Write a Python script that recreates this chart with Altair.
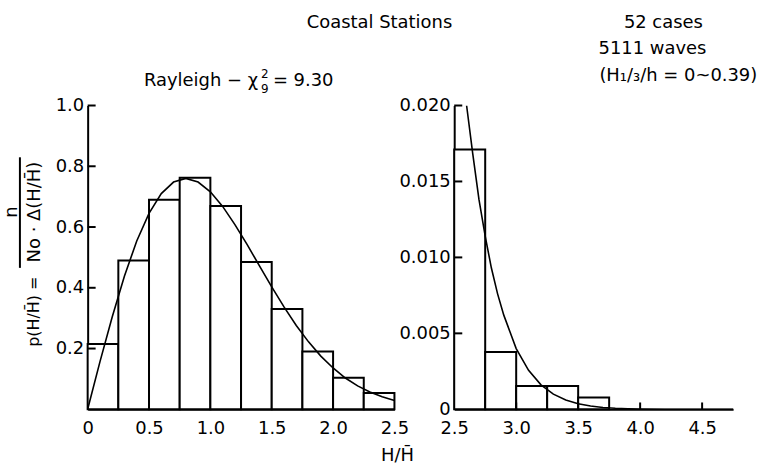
import altair as alt
import pandas as pd

# ---------------- data ----------------
left_bin_start = [0.0, 0.25, 0.5, 0.75, 1.0, 1.25, 1.5, 1.75, 2.0, 2.25]
left_bin_end = [0.25, 0.5, 0.75, 1.0, 1.25, 1.5, 1.75, 2.0, 2.25, 2.5]
left_density = [0.215, 0.49, 0.69, 0.762, 0.669, 0.485, 0.33, 0.19, 0.104, 0.054]

right_bin_start = [2.5, 2.75, 3.0, 3.25, 3.5]
right_bin_end = [2.75, 3.0, 3.25, 3.5, 3.75]
right_density = [0.0171, 0.00377, 0.00153, 0.00153, 0.00078]

left_curve_x = [0.0, 0.1, 0.2, 0.3, 0.4, 0.5, 0.6, 0.7, 0.8, 0.9, 1.0, 1.1, 1.2,
                1.3, 1.4, 1.5, 1.6, 1.7, 1.8, 1.9, 2.0, 2.1, 2.2, 2.3, 2.4, 2.5]
left_curve_y = [0.0, 0.156, 0.304, 0.439, 0.554, 0.645, 0.710, 0.748, 0.760, 0.748,
                0.716, 0.668, 0.608, 0.542, 0.472, 0.403, 0.337, 0.276, 0.222, 0.175,
                0.136, 0.103, 0.077, 0.057, 0.041, 0.029]

right_curve_x = [2.6, 2.65, 2.7, 2.75, 2.8, 2.85, 2.9, 3.0, 3.1, 3.2, 3.3, 3.4, 3.5,
                 3.6, 3.7, 3.8, 3.9, 4.0, 4.2, 4.4, 4.75]
right_curve_y = [0.0200, 0.0168, 0.0138, 0.0114, 0.0093, 0.0076, 0.0062, 0.0040,
                 0.00257, 0.00161, 0.00100, 0.00061, 0.00037, 0.00022, 0.00012,
                 0.00007, 0.00004, 0.00002, 0.000006, 0.000001, 0.0]

left_x_ticks = [0, 0.5, 1.0, 1.5, 2.0, 2.5]
left_y_ticks = [0.2, 0.4, 0.6, 0.8, 1.0]
right_x_ticks = [2.5, 3.0, 3.5, 4.0, 4.5]
right_y_ticks = [0, 0.005, 0.010, 0.015, 0.020]

FONT = "DejaVu Sans"
INK = "black"
FS = 18

left_bars = pd.DataFrame({"x0": left_bin_start, "x1": left_bin_end, "p": left_density})
right_bars = pd.DataFrame({"x0": right_bin_start, "x1": right_bin_end, "p": right_density})
left_curve = pd.DataFrame({"x": left_curve_x, "p": left_curve_y})
right_curve = pd.DataFrame({"x": right_curve_x, "p": right_curve_y})

lx = alt.Scale(domain=[0, 2.5], nice=False)
ly = alt.Scale(domain=[0, 1.0], nice=False)
rx = alt.Scale(domain=[2.5, 4.75], nice=False, zero=False)
ry = alt.Scale(domain=[0, 0.02], nice=False)

axis_common = dict(grid=False, ticks=False, domainColor=INK, domainWidth=2,
                   labelFont=FONT, labelFontSize=FS, labelColor=INK, title=None,
                   labelFlush=False, labelOverlap=False)

lx_axis = alt.Axis(values=left_x_ticks, labelPadding=10,
                   labelExpr="datum.value == 0 ? '0' : format(datum.value, '.1f')", **axis_common)
ly_axis = alt.Axis(values=left_y_ticks, labelPadding=4, format=".1f", **axis_common)
rx_axis = alt.Axis(values=right_x_ticks, labelPadding=10, format=".1f", **axis_common)
ry_axis = alt.Axis(values=right_y_ticks, labelPadding=4,
                   labelExpr="datum.value == 0 ? '0' : format(datum.value, '.3f')", **axis_common)


def text_layer(txt, x, y, size=FS, align="center", angle=0):
    kw = dict(font=FONT, fontSize=size, color=INK, align=align, baseline="middle")
    if angle:
        kw["angle"] = angle
    return alt.Chart(alt.Data(values=[{}])).mark_text(**kw).encode(
        x=alt.value(x), y=alt.value(y), text=alt.value(txt))


# ---------------- left panel ----------------
l_bars = alt.Chart(left_bars).mark_rect(fill="white", stroke=INK, strokeWidth=2).encode(
    x=alt.X("x0:Q", scale=lx, axis=lx_axis),
    x2="x1:Q",
    y=alt.Y("p:Q", scale=ly, axis=ly_axis),
    y2=alt.datum(0),
)
l_line = alt.Chart(left_curve).mark_line(color=INK, strokeWidth=1.6).encode(
    x=alt.X("x:Q", scale=lx, axis=lx_axis), y=alt.Y("p:Q", scale=ly, axis=ly_axis))
l_ticks = alt.Chart(pd.DataFrame({"t": left_y_ticks})).mark_rule(color=INK, strokeWidth=2).encode(
    y=alt.Y("t:Q", scale=ly, axis=ly_axis), x=alt.datum(0, scale=lx), x2=alt.datum(0.065))

frac_bar = alt.Chart(alt.Data(values=[{}])).mark_rule(color=INK, strokeWidth=2).encode(
    x=alt.value(-68), y=alt.value(52), y2=alt.value(163))

left = alt.layer(
    l_bars, l_line, l_ticks, frac_bar,
    text_layer("n", -76, 107, angle=270),
    text_layer("No · Δ(H/H\u0304)", -53, 107, angle=270),
    text_layer("p(H/H\u0304) =", -54, 207, size=16, angle=270),
    text_layer("Coastal  Stations", 293, -83),
    text_layer("52 cases", 578, -83),
    text_layer("5111  waves", 567, -57),
    text_layer("(H\u2081/\u2083/h = 0~0.39)", 593, -30),
    text_layer("Rayleigh − χ", 171, -25, align="right"),
    text_layer("2", 174, -32, size=12, align="left"),
    text_layer("9", 174, -17, size=12, align="left"),
    text_layer("= 9.30", 186, -25, align="left"),
    text_layer("H/H\u0304", 311, 352),
).properties(width=308, height=305)

# ---------------- right panel ----------------
r_bars = alt.Chart(right_bars).mark_rect(fill="white", stroke=INK, strokeWidth=2).encode(
    x=alt.X("x0:Q", scale=rx, axis=rx_axis),
    x2="x1:Q",
    y=alt.Y("p:Q", scale=ry, axis=ry_axis),
    y2=alt.datum(0),
)
r_line = alt.Chart(right_curve).mark_line(color=INK, strokeWidth=1.6, clip=True).encode(
    x=alt.X("x:Q", scale=rx, axis=rx_axis), y=alt.Y("p:Q", scale=ry, axis=ry_axis))
r_yticks = alt.Chart(pd.DataFrame({"t": right_y_ticks[1:]})).mark_rule(color=INK, strokeWidth=2).encode(
    y=alt.Y("t:Q", scale=ry, axis=ry_axis), x=alt.datum(2.5, scale=rx), x2=alt.datum(2.565))
r_xticks = alt.Chart(pd.DataFrame({"t": right_x_ticks[1:]})).mark_rule(color=INK, strokeWidth=2).encode(
    x=alt.X("t:Q", scale=rx, axis=rx_axis), y=alt.datum(0, scale=ry), y2=alt.datum(0.00045))

right = alt.layer(r_bars, r_line, r_yticks, r_xticks).properties(width=280, height=305)

chart = alt.hconcat(left, right, spacing=60, bounds="flush").properties(
    padding={"left": 3, "top": 13, "right": 2, "bottom": 2},
    background="white",
).configure_view(stroke=None)

chart.save("out.html", embed_options={"renderer": "svg", "actions": False})
